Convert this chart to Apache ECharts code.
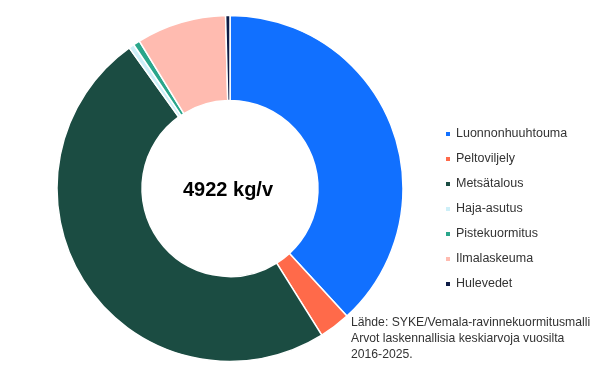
<!DOCTYPE html>
<html>
<head>
<meta charset="utf-8">
<script src="https://cdn.jsdelivr.net/npm/echarts@6/dist/echarts.min.js"></script>
<style>html,body{margin:0;padding:0;background:#fff}#c{width:600px;height:379px}</style>
</head>
<body>
<div id="c"></div>
<script>
const categories = ['Luonnonhuuhtouma','Peltoviljely','Metsätalous','Haja-asutus','Pistekuormitus','Ilmalaskeuma','Hulevedet'];
const values = [1880, 143, 2412, 25, 30, 412, 20];
const colors = ['#1170FF','#FF6A4A','#1B4C42','#CDEFF8','#2AA68B','#FFBBB0','#0D1B45'];
const centerLabel = '4922 kg/v';
const sourceLines = ['Lähde: SYKE/Vemala-ravinnekuormitusmalli','Arvot laskennallisia keskiarvoja vuosilta','2016-2025.'];

const chart = echarts.init(document.getElementById('c'));
chart.setOption({
  animation: false,
  textStyle: {fontFamily: 'Liberation Sans'},
  legend: {
    orient: 'vertical', left: 444, top: 127, padding: 0,
    itemWidth: 6, itemHeight: 6, itemGap: 11,
    icon: 'rect',
    textStyle: {fontSize: 12.5, color: '#333', fontFamily: 'Liberation Sans', lineHeight: 14},
    data: categories
  },
  graphic: [
    {type: 'text', left: 351, top: 315, style: {text: sourceLines.join('\n'), font: '12.2px Liberation Sans', fill: '#333', lineHeight: 16}},
    {type: 'text', x: 228, y: 190.5, style: {text: centerLabel, font: 'bold 20px Liberation Sans', fill: '#000', align: 'center', verticalAlign: 'middle'}}
  ],
  series: [{
    type: 'pie',
    center: [230, 188.5],
    radius: [88, 173],
    startAngle: 90,
    clockwise: true,
    label: {show: false},
    labelLine: {show: false},
    itemStyle: {borderColor: '#fff', borderWidth: 1.5},
    data: categories.map((n, i) => ({name: n, value: values[i], itemStyle: {color: colors[i]}}))
  }]
});
</script>
</body>
</html>
